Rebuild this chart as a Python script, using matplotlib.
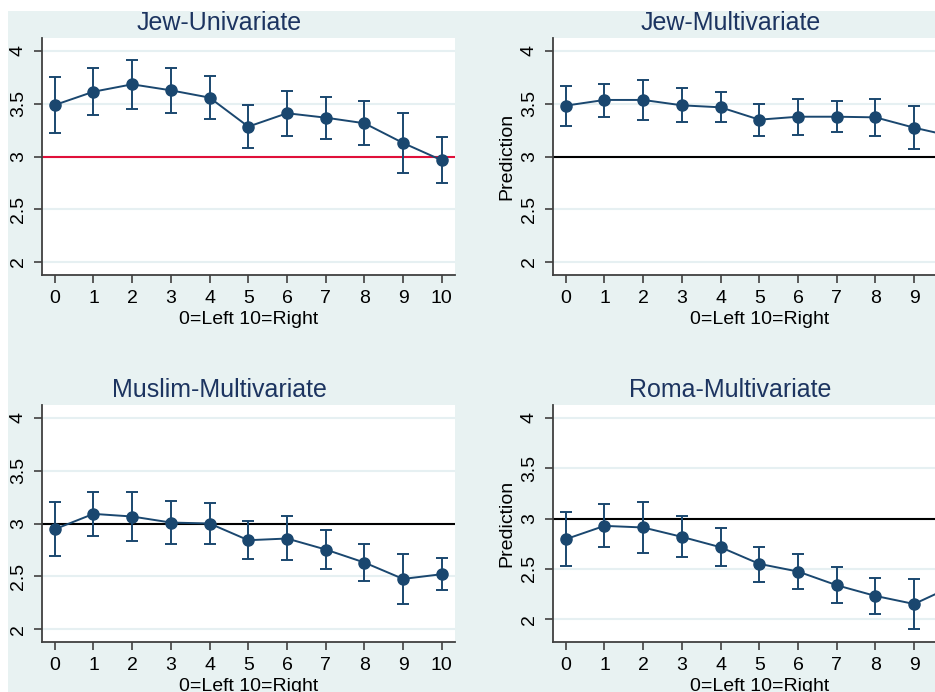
import matplotlib.pyplot as plt
from matplotlib.patches import Rectangle

plt.rcParams['font.family'] = ['Liberation Sans', 'DejaVu Sans']

# 0=Left 10=Right
x = list(range(11))

# Jew - univariate
jew_uni = [3.488, 3.614, 3.684, 3.627, 3.558, 3.283, 3.410, 3.368, 3.315, 3.128, 2.964]
jew_uni_lo = [3.220, 3.396, 3.453, 3.415, 3.353, 3.081, 3.197, 3.169, 3.106, 2.847, 2.752]
jew_uni_hi = [3.757, 3.836, 3.915, 3.842, 3.763, 3.491, 3.624, 3.567, 3.526, 3.410, 3.182]

# Jew - multivariate
jew_mul = [3.482, 3.536, 3.536, 3.485, 3.466, 3.349, 3.377, 3.377, 3.371, 3.273, 3.190]
jew_mul_lo = [3.289, 3.377, 3.346, 3.324, 3.330, 3.197, 3.207, 3.235, 3.192, 3.068, 2.990]
jew_mul_hi = [3.671, 3.690, 3.728, 3.649, 3.609, 3.498, 3.548, 3.526, 3.548, 3.479, 3.400]

# Muslim - multivariate
mus_mul = [2.946, 3.091, 3.066, 3.009, 3.000, 2.842, 2.858, 2.754, 2.631, 2.476, 2.521]
mus_mul_lo = [2.694, 2.886, 2.830, 2.804, 2.808, 2.662, 2.653, 2.568, 2.461, 2.243, 2.372]
mus_mul_hi = [3.202, 3.297, 3.297, 3.215, 3.196, 3.019, 3.069, 2.940, 2.804, 2.716, 2.675]

# Roma - multivariate
rom_mul = [2.795, 2.927, 2.911, 2.818, 2.715, 2.550, 2.474, 2.338, 2.232, 2.152, 2.330]
rom_mul_lo = [2.526, 2.715, 2.659, 2.616, 2.526, 2.374, 2.301, 2.159, 2.050, 1.901, 2.150]
rom_mul_hi = [3.060, 3.139, 3.162, 3.023, 2.904, 2.719, 2.646, 2.523, 2.414, 2.404, 2.510]

yticks = [2, 2.5, 3, 3.5, 4]
ytick_labels = ['2', '2.5', '3', '3.5', '4']

navy = '#1a476f'
bg = '#e8f2f2'
W, H = 935, 692

fig = plt.figure(figsize=(9.35, 6.92), dpi=100, facecolor='white')
fig.patches.append(Rectangle((8 / W, 0), 1, 1 - 11 / H, transform=fig.transFigure,
                             facecolor=bg, edgecolor='none', zorder=-5))


def panel(rect, title, y, lo, hi, ylim, refcolor, ylabel=None):
    l, t, w, h = rect
    ax = fig.add_axes([l / W, 1 - (t + h) / H, w / W, h / H])
    ax.set_facecolor('white')
    for yt in yticks:
        ax.axhline(yt, color='#e6f0f2', lw=1.5, zorder=1)
    ax.axhline(3, color=refcolor, lw=1.5, zorder=2)
    err = [[v - a for v, a in zip(y, lo)], [b - v for v, b in zip(y, hi)]]
    ax.errorbar(x, y, yerr=err, color=navy, lw=1.4, elinewidth=1.4, capsize=4.5,
                capthick=1.4, marker='o', ms=8, zorder=3)
    ax.set_xlim(-0.33, 10.34)
    ax.set_ylim(*ylim)
    ax.set_xticks(x)
    ax.set_yticks(yticks)
    ax.set_yticklabels(ytick_labels)
    for s in ['top', 'right']:
        ax.spines[s].set_visible(False)
    for s in ['left', 'bottom']:
        ax.spines[s].set_color('#404040')
        ax.spines[s].set_linewidth(1.3)
    ax.tick_params(axis='both', labelsize=14, length=6, width=1.2, color='#404040', pad=5)
    ax.tick_params(axis='y', labelrotation=90)
    for lab in ax.get_yticklabels():
        lab.set_va('center')
    ax.set_xlabel('0=Left 10=Right', fontsize=14, labelpad=3)
    if ylabel:
        ax.set_ylabel(ylabel, fontsize=14, labelpad=4)
    ax.set_title(title, fontsize=18, color='#1c3460', x=0.43, pad=6)
    return ax


panel((42, 38, 413, 237), 'Jew-Univariate', jew_uni, jew_uni_lo, jew_uni_hi,
      (1.877, 4.123), '#e0103a')
panel((553, 38, 413, 237), 'Jew-Multivariate', jew_mul, jew_mul_lo, jew_mul_hi,
      (1.877, 4.123), 'black', 'Prediction')
panel((42, 405, 413, 237), 'Muslim-Multivariate', mus_mul, mus_mul_lo, mus_mul_hi,
      (1.88, 4.12), 'black')
panel((553, 405, 413, 237), 'Roma-Multivariate', rom_mul, rom_mul_lo, rom_mul_hi,
      (1.775, 4.126), 'black', 'Prediction')

fig.savefig('out.png', dpi=100, facecolor='white')
